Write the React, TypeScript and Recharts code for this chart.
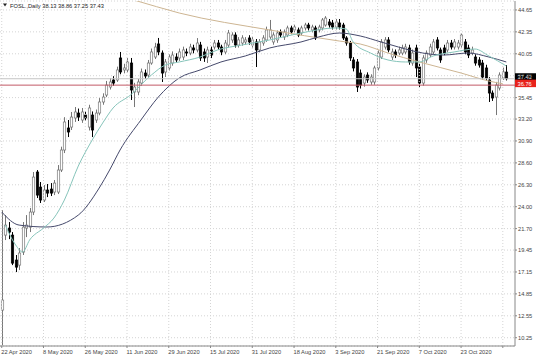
import {
  ComposedChart,
  Bar,
  Line,
  XAxis,
  YAxis,
  CartesianGrid,
  ReferenceLine,
} from 'recharts'

// FOSL daily candles, 22 Apr 2020 -> mid Nov 2020
const tickLabels = [
  '22 Apr 2020', '8 May 2020', '26 May 2020', '11 Jun 2020', '29 Jun 2020', '15 Jul 2020',
  '31 Jul 2020', '18 Aug 2020', '3 Sep 2020', '21 Sep 2020', '7 Oct 2020', '23 Oct 2020',
]
const LABEL_STEP = 12
const priceTicks = [
  44.65, 42.35, 40.05, 37.75, 35.45, 33.2, 30.9, 28.6, 26.3, 24.0, 21.7, 19.45, 17.15, 14.85, 12.55, 10.25,
]

const opens = [
  13.15, 21.02, 21.76, 21.02, 18.40, 17.87, 19.24, 21.76, 21.86, 23.44,
  27.64, 26.06, 24.70, 25.75, 25.85, 25.54, 25.54, 27.85, 29.95, 32.26,
  32.36, 33.31, 33.83, 33.10, 33.62, 32.36, 33.62, 33.10, 33.83, 34.99,
  35.72, 36.56, 37.30, 37.30, 39.61, 38.35, 38.35, 39.08, 36.04, 36.04,
  36.98, 38.03, 37.82, 39.08, 39.71, 41.08, 40.13, 38.14, 38.56, 39.08,
  39.71, 39.61, 39.71, 40.24, 40.13, 40.66, 40.45, 40.97, 40.24, 39.71,
  40.45, 40.76, 41.18, 40.76, 40.24, 40.97, 41.50, 42.02, 40.97, 41.18,
  41.29, 41.71, 40.97, 41.29, 40.45, 41.18, 41.50, 41.81, 41.29, 41.50,
  42.34, 41.81, 42.02, 42.76, 42.55, 42.55, 42.23, 42.76, 43.07, 42.55,
  42.76, 42.55, 42.76, 43.07, 43.39, 43.28, 42.86, 43.28, 43.07, 41.71,
  41.18, 39.40, 39.19, 38.03, 36.98, 37.82, 37.09, 37.09, 38.56, 39.71,
  40.76, 41.50, 39.71, 40.24, 40.13, 40.13, 40.24, 40.66, 39.08, 40.66,
  38.66, 36.98, 39.40, 39.92, 40.24, 41.50, 40.45, 40.66, 40.45, 41.18,
  40.76, 40.76, 40.97, 41.29, 40.66, 40.13, 39.71, 39.40, 39.08, 38.56,
  37.30, 35.93, 35.51, 36.46, 37.51, 38.13,
]
const highs = [
  23.65, 23.12, 22.39, 21.34, 18.93, 19.66, 22.39, 23.12, 23.86, 27.64,
  27.85, 26.59, 26.27, 26.38, 26.48, 26.80, 28.37, 30.30, 33.40, 33.10,
  33.94, 34.46, 34.30, 34.36, 34.00, 34.70, 34.00, 34.20, 35.40, 35.90,
  37.20, 37.50, 37.70, 38.70, 40.24, 39.00, 39.60, 39.61, 37.00, 37.40,
  38.50, 38.40, 39.40, 40.60, 41.20, 41.71, 40.40, 39.50, 40.00, 40.30,
  40.10, 40.60, 40.80, 40.60, 41.10, 41.00, 41.70, 41.30, 40.60, 40.80,
  40.80, 41.50, 41.50, 41.00, 41.50, 42.55, 42.30, 42.30, 41.80, 42.00,
  41.80, 42.00, 41.80, 41.60, 41.60, 42.00, 42.90, 43.60, 42.30, 42.50,
  42.60, 42.60, 43.00, 43.00, 43.10, 42.80, 43.00, 43.30, 43.30, 43.10,
  43.00, 43.10, 43.80, 44.00, 43.70, 43.60, 43.70, 43.70, 43.30, 41.90,
  41.40, 39.70, 39.50, 38.40, 37.90, 38.10, 37.90, 38.80, 40.40, 41.60,
  41.80, 41.80, 40.60, 40.50, 40.80, 41.00, 41.10, 41.00, 40.50, 41.00,
  39.00, 39.90, 40.40, 41.10, 41.60, 41.80, 40.70, 41.00, 41.50, 41.50,
  41.60, 41.50, 42.20, 41.60, 41.00, 40.80, 40.00, 39.70, 39.40, 38.90,
  37.60, 36.20, 37.10, 38.10, 38.60, 38.86,
]
const lows = [
  9.45, 20.50, 20.60, 17.87, 17.14, 17.35, 18.93, 20.81, 21.34, 23.12,
  24.91, 24.39, 24.49, 25.01, 25.12, 25.22, 25.33, 27.64, 29.63, 31.31,
  32.05, 32.90, 33.00, 32.80, 33.00, 32.00, 31.31, 32.80, 33.60, 34.70,
  35.50, 36.30, 36.70, 37.10, 37.90, 38.00, 38.10, 35.20, 34.46, 35.70,
  36.70, 37.40, 37.60, 38.90, 39.50, 39.90, 37.09, 37.61, 38.30, 38.80,
  39.10, 39.30, 39.40, 39.80, 39.90, 40.10, 40.20, 39.30, 39.20, 39.08,
  39.60, 40.50, 40.50, 39.90, 40.00, 40.70, 41.20, 40.70, 40.70, 40.90,
  41.00, 41.00, 40.70, 38.66, 40.20, 40.90, 41.30, 41.60, 41.00, 41.20,
  41.80, 41.50, 41.80, 42.10, 42.30, 41.80, 42.00, 42.50, 42.50, 42.30,
  41.50, 42.30, 42.50, 42.90, 42.80, 42.60, 42.60, 42.60, 41.50, 40.90,
  39.30, 38.20, 36.04, 36.40, 36.60, 37.00, 36.80, 36.80, 38.30, 39.50,
  40.50, 40.20, 39.40, 39.60, 39.90, 39.90, 40.00, 38.90, 38.80, 37.61,
  36.56, 36.70, 39.10, 39.70, 40.00, 40.40, 39.10, 39.90, 40.20, 40.50,
  40.50, 40.50, 40.70, 40.00, 39.60, 39.90, 38.80, 38.60, 37.30, 37.20,
  34.99, 35.10, 33.62, 36.20, 37.30, 37.25,
]
const closes = [
  14.20, 22.07, 21.34, 18.08, 17.66, 19.14, 21.86, 22.07, 23.44, 27.11,
  25.22, 24.70, 25.75, 25.43, 25.43, 26.48, 27.85, 29.95, 32.89, 31.84,
  33.41, 33.94, 33.41, 33.94, 33.31, 34.36, 32.05, 33.83, 34.99, 35.51,
  36.77, 37.09, 36.98, 38.35, 38.14, 38.56, 39.19, 36.25, 36.56, 37.09,
  38.14, 37.72, 39.08, 40.24, 40.76, 40.24, 38.03, 39.19, 39.71, 39.92,
  39.40, 40.24, 40.45, 40.13, 40.76, 40.45, 41.18, 39.61, 39.61, 40.45,
  39.92, 41.18, 40.76, 40.24, 41.18, 42.23, 42.02, 40.97, 41.50, 41.71,
  41.50, 41.29, 41.50, 40.45, 41.29, 41.71, 42.55, 42.55, 42.02, 42.23,
  42.02, 42.34, 42.76, 42.34, 42.86, 42.02, 42.76, 43.07, 42.76, 42.86,
  41.71, 42.86, 43.60, 43.80, 43.07, 42.86, 43.39, 42.86, 41.71, 41.18,
  39.61, 38.56, 36.56, 36.77, 37.61, 37.30, 37.61, 38.56, 40.13, 41.29,
  41.50, 40.45, 40.24, 39.92, 40.45, 40.66, 40.76, 39.19, 40.13, 38.56,
  36.98, 39.61, 40.13, 40.76, 41.29, 40.66, 39.40, 40.13, 41.18, 40.76,
  41.29, 41.18, 42.02, 40.24, 39.92, 40.45, 39.08, 38.87, 37.61, 37.51,
  35.93, 35.41, 36.77, 37.82, 38.14, 37.43,
]

// moving averages read at sample bars: [bar index, price]
const fastMA: [number, number][] = [
  [1, 22.07], [4, 19.98], [6, 19.24], [8, 20.5], [12, 21.76], [15, 22.81], [18, 24.7], [22, 28.27],
  [26, 31.0], [29, 32.78], [32, 34.36], [37, 35.72], [43, 37.82], [47, 38.87], [51, 39.19], [57, 39.71],
  [62, 40.45], [69, 40.97], [77, 41.5], [86, 42.23], [96, 42.76], [99, 42.65], [101, 41.29], [106, 40.13],
  [111, 39.4], [116, 39.19], [120, 39.19], [124, 39.82], [130, 40.24], [136, 40.55], [140, 39.82], [145, 38.77],
]
const slowMA: [number, number][] = [
  [0, 23.44], [5, 22.07], [13, 21.87], [22, 23.12], [28, 25.96], [31, 27.85], [34, 29.95], [40, 33.1],
  [45, 35.51], [51, 37.51], [57, 38.35], [63, 39.19], [70, 39.82], [77, 40.66], [86, 41.29], [91, 41.81],
  [97, 42.23], [103, 41.92], [109, 41.29], [114, 40.76], [121, 40.13], [127, 39.92], [134, 40.13],
  [140, 39.71], [145, 39.19],
]
const longMA: [number, number][] = [
  [32, 46.3], [38, 45.69], [51, 44.33], [77, 42.55], [97, 41.39], [103, 41.08], [111, 40.13],
  [120, 39.19], [132, 38.03], [140, 37.19], [144, 36.9],
]

const lastBid = 37.43
const levelLine = 36.76
const EXTRA_SLOTS = 2 // chart shift: empty slots to the right of the last bar

const fastMap = new Map(fastMA)
const slowMap = new Map(slowMA)
const longMap = new Map(longMA)

const data = Array.from({ length: opens.length + EXTRA_SLOTS }, (_, i) => {
  const has = i < opens.length
  return {
    i,
    open: has ? opens[i] : null,
    high: has ? highs[i] : null,
    low: has ? lows[i] : null,
    close: has ? closes[i] : null,
    range: has ? [lows[i], highs[i]] : null,
    fast: fastMap.get(i) ?? null,
    slow: slowMap.get(i) ?? null,
    long: longMap.get(i) ?? null,
  }
})

const gridTicks = data.filter((d) => d.i % LABEL_STEP === 0).map((d) => d.i)

const FONT = '"Liberation Sans", Arial, sans-serif'
const FS = 5.7

function Candle(props: any) {
  const { x, y, width, height, payload } = props
  if (!payload || payload.open == null || !Number.isFinite(y) || !Number.isFinite(height)) return <g />
  const { open, high, low, close } = payload
  const top = Math.min(y, y + height)
  const h = Math.abs(height)
  const k = h / (high - low || 1)
  const cx = Math.round(x + width / 2) + 0.5
  const yO = top + (high - open) * k
  const yC = top + (high - close) * k
  const up = close >= open
  const bodyTop = Math.min(yO, yC)
  const bodyH = Math.max(Math.abs(yC - yO), 1)
  const col = up ? '#777' : '#000'
  return (
    <g>
      <line x1={cx} x2={cx} y1={top} y2={top + h} stroke={col} strokeWidth={1} />
      <rect
        x={cx - 1.2}
        y={bodyTop}
        width={2.4}
        height={bodyH}
        fill={up ? '#fff' : '#000'}
        stroke={col}
        strokeWidth={0.7}
      />
    </g>
  )
}

function DateTick(props: any) {
  const { x, y, payload } = props
  const v = payload?.value
  const label = v % LABEL_STEP === 0 ? tickLabels[v / LABEL_STEP] : undefined
  return (
    <g>
      <line x1={x} x2={x} y1={y - 2} y2={y} stroke="#888" />
      {label && (
        <text x={x - 0.5} y={y + 5.5} fontSize={FS} fontFamily={FONT} fill="#444" textAnchor="start">
          {label}
        </text>
      )}
    </g>
  )
}

function PriceTick(props: any) {
  const { x, y, payload } = props
  return (
    <text x={x} y={y + 2} fontSize={FS} fontFamily={FONT} fill="#444" textAnchor="start">
      {Number(payload.value).toFixed(2)}
    </text>
  )
}

function PriceTag({ viewBox, value, bg }: any) {
  if (!viewBox) return null
  const left = viewBox.x + viewBox.width
  const y = viewBox.y
  return (
    <g>
      <rect x={left} y={y - 5.5} width={21} height={7.5} fill={bg} />
      <text x={left + 2.5} y={y + 0.6} fontSize={FS} fontFamily={FONT} fill="#fff">
        {value.toFixed(2)}
      </text>
    </g>
  )
}

export default function App() {
  return (
    <div style={{ position: 'absolute', left: 0, top: 0, width: 536, height: 357, background: '#fff' }}>
      <ComposedChart width={536} height={357} data={data} margin={{ top: 1, right: 0, bottom: 0, left: 0 }}>
        <CartesianGrid vertical={false} stroke="#d4d4d4" strokeDasharray="1 2" />
        {gridTicks.map((t) => (
          <ReferenceLine key={t} x={t} stroke="#d4d4d4" strokeDasharray="1 2" />
        ))}
        <XAxis
          dataKey="i"
          type="category"
          interval={LABEL_STEP - 1}
          height={11}
          tickSize={2}
          tickMargin={0}
          tickLine={false}
          axisLine={{ stroke: '#888' }}
          tick={<DateTick />}
        />
        <YAxis
          orientation="right"
          type="number"
          width={21}
          domain={[9.38, 45.59]}
          allowDataOverflow
          ticks={priceTicks}
          interval={0}
          tickSize={2}
          tickMargin={1}
          axisLine={{ stroke: '#888' }}
          tickLine={{ stroke: '#888' }}
          tick={<PriceTick />}
        />
        <Line dataKey="long" type="monotone" stroke="#cdb592" strokeWidth={1} dot={false} connectNulls isAnimationActive={false} />
        <Line dataKey="slow" type="monotone" stroke="#45496b" strokeWidth={1} dot={false} connectNulls isAnimationActive={false} />
        <Line dataKey="fast" type="monotone" stroke="#86c4ba" strokeWidth={1} dot={false} connectNulls isAnimationActive={false} />
        <Bar dataKey="range" shape={<Candle />} isAnimationActive={false} />
        <ReferenceLine y={lastBid} stroke="#c4c4c4" zIndex={1000} label={<PriceTag value={lastBid} bg="#000" />} />
        <ReferenceLine y={levelLine} stroke="#c25a66" zIndex={1000} label={<PriceTag value={levelLine} bg="#e8231c" />} />
      </ComposedChart>
      <svg width={200} height={12} style={{ position: 'absolute', left: 0, top: 0 }}>
        <polygon points="3,3.5 7,3.5 5,6.5" fill="#222" />
        <text x={10} y={7.5} fontSize={FS} fontFamily={FONT} fill="#222">
          FOSL.,Daily  38.13 38.86 37.25 37.43
        </text>
      </svg>
    </div>
  )
}
